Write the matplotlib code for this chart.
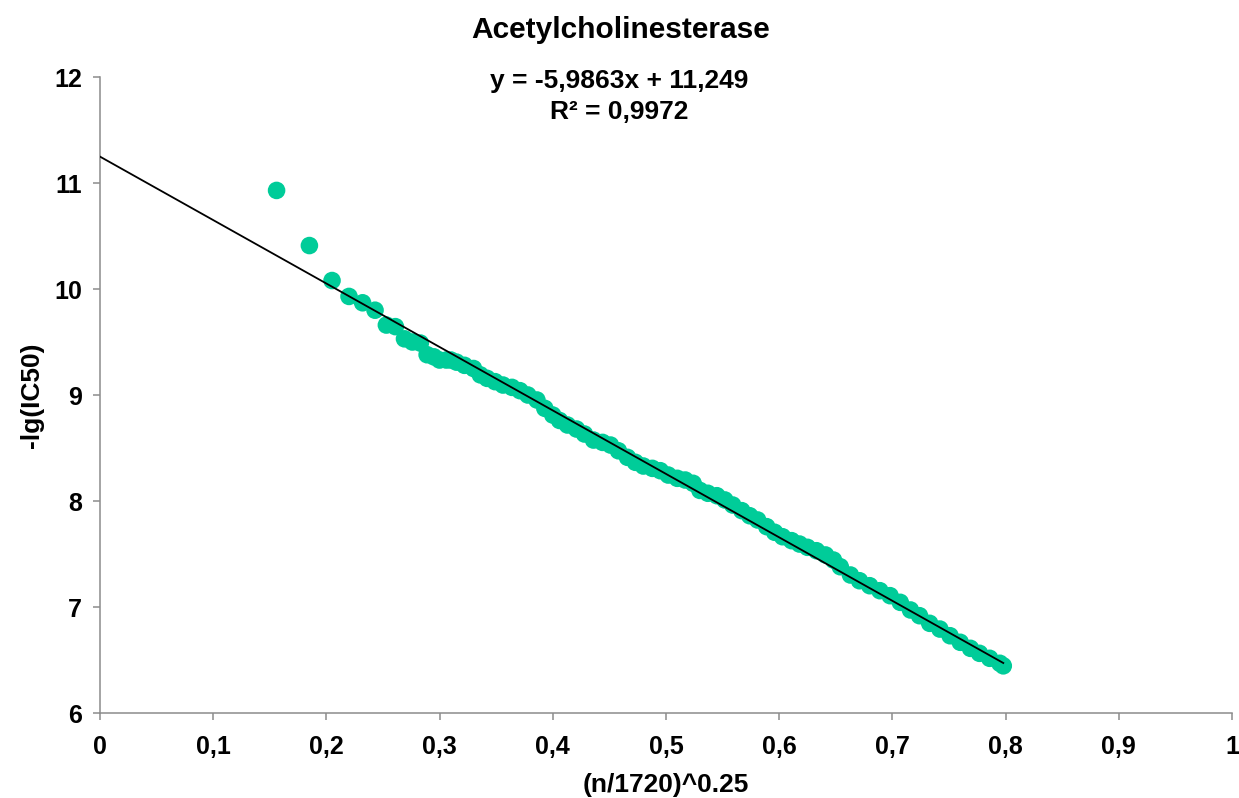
import matplotlib
matplotlib.use("Agg")
import matplotlib.pyplot as plt
from matplotlib.ticker import FuncFormatter

plt.rcParams['font.family'] = ['Liberation Sans', 'DejaVu Sans']

# (n/1720)^0.25 values and -lg(IC50) values
x_values = [0.156, 0.185, 0.205, 0.220, 0.232, 0.243, 0.253, 0.261, 0.269, 0.276,
            0.283, 0.289, 0.295, 0.300, 0.306, 0.310, 0.315, 0.322, 0.330,
            0.336, 0.342, 0.349, 0.356, 0.364, 0.371, 0.378, 0.386, 0.393, 0.400,
            0.406, 0.413, 0.421, 0.428, 0.436, 0.444, 0.451, 0.458, 0.466, 0.473,
            0.480, 0.488, 0.495, 0.502, 0.510, 0.517, 0.524, 0.530, 0.537, 0.545,
            0.552, 0.559, 0.567, 0.574, 0.581, 0.589, 0.596, 0.603, 0.611, 0.618,
            0.625, 0.633, 0.641, 0.648, 0.654, 0.663, 0.671, 0.680, 0.689, 0.698,
            0.707, 0.716, 0.724, 0.733, 0.742, 0.751, 0.760, 0.769, 0.777, 0.786,
            0.795, 0.798]
y_values = [10.93, 10.41, 10.08, 9.93, 9.87, 9.80, 9.66, 9.645, 9.53, 9.50,
            9.49, 9.38, 9.36, 9.33, 9.33, 9.33, 9.31, 9.28, 9.25,
            9.19, 9.157, 9.126, 9.094, 9.072, 9.041, 9.00, 8.953, 8.874, 8.811,
            8.76, 8.717, 8.679, 8.632, 8.575, 8.553, 8.528, 8.474, 8.412, 8.365,
            8.330, 8.308, 8.286, 8.245, 8.214, 8.198, 8.167, 8.10, 8.073, 8.050,
            8.01, 7.962, 7.909, 7.861, 7.821, 7.758, 7.705, 7.663, 7.626, 7.594,
            7.563, 7.531, 7.491, 7.443, 7.38, 7.302, 7.248, 7.201, 7.154, 7.107,
            7.044, 6.972, 6.918, 6.846, 6.792, 6.729, 6.667, 6.61, 6.563, 6.516,
            6.469, 6.445]

slope = -5.9863
intercept = 11.249
r2_text = "0,9972"

x_ticks = [0, 0.1, 0.2, 0.3, 0.4, 0.5, 0.6, 0.7, 0.8, 0.9, 1.0]
y_ticks = [6, 7, 8, 9, 10, 11, 12]

fig = plt.figure(figsize=(12.39, 7.98), dpi=100)
ax = fig.add_axes([0.0807, 0.1065, 0.9136, 0.797])

ax.scatter(x_values, y_values, s=160, color='#00CC99', edgecolors='none', zorder=2)
x_end = max(x_values)
ax.plot([0, x_end], [intercept, intercept + slope * x_end], color='black', lw=1.3, zorder=3)

ax.set_xlim(0, 1)
ax.set_ylim(6, 12)
ax.set_xticks(x_ticks)
ax.set_yticks(y_ticks)

def comma(v, pos):
    s = ('%g' % v)
    return s.replace('.', ',')

ax.xaxis.set_major_formatter(FuncFormatter(comma))
ax.yaxis.set_major_formatter(FuncFormatter(comma))

for side in ['top', 'right']:
    ax.spines[side].set_visible(False)
for side in ['left', 'bottom']:
    ax.spines[side].set_color('#8c8c8c')
    ax.spines[side].set_linewidth(1.1)
ax.tick_params(axis='both', direction='out', length=5, width=1.1, color='#8c8c8c',
               labelsize=18)
ax.tick_params(axis='y', pad=8)
ax.tick_params(axis='x', pad=11)
for lbl in ax.get_xticklabels() + ax.get_yticklabels():
    lbl.set_fontweight('bold')

ax.set_xlabel('(n/1720)^0.25', fontsize=19, fontweight='bold', labelpad=10)
ax.set_ylabel('-lg(IC50)', fontsize=19, fontweight='bold', labelpad=7)

fig.text(0.501, 0.963, 'Acetylcholinesterase', ha='center', va='center',
         fontsize=21.5, fontweight='bold')
fig.text(0.5, 0.898, 'y = -5,9863x + 11,249', ha='center', va='center',
         fontsize=19, fontweight='bold')
fig.text(0.5, 0.86, 'R² = ' + r2_text, ha='center', va='center',
         fontsize=19, fontweight='bold')

fig.savefig('out.png', dpi=100)
